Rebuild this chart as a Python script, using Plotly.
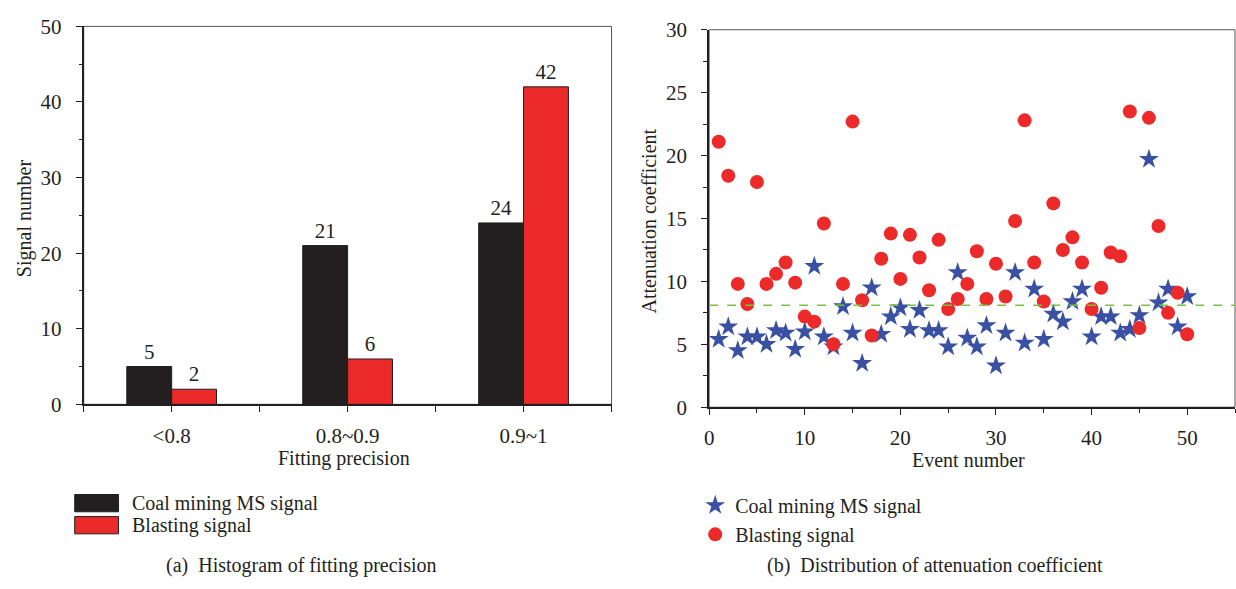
import plotly.graph_objects as go

# ---- data -------------------------------------------------------------
precision_bins = ["<0.8", "0.8~0.9", "0.9~1"]
coal_counts = [5, 21, 24]
blast_counts = [2, 6, 42]

event_no = list(range(1, 51))
coal_atten = [5.4, 6.4, 4.5, 5.6, 5.6, 5.0, 6.1, 5.9, 4.6, 6.0,
              11.2, 5.6, 4.8, 8.0, 5.9, 3.5, 9.5, 5.8, 7.2, 7.9,
              6.2, 7.7, 6.1, 6.1, 4.8, 10.7, 5.5, 4.8, 6.5, 3.3,
              5.9, 10.7, 5.1, 9.4, 5.4, 7.4, 6.8, 8.4, 9.4, 5.6,
              7.2, 7.2, 5.9, 6.2, 7.3, 19.7, 8.3, 9.4, 6.4, 8.8]
blast_atten = [21.1, 18.4, 9.8, 8.2, 17.9, 9.8, 10.6, 11.5, 9.9, 7.2,
               6.8, 14.6, 5.0, 9.8, 22.7, 8.5, 5.7, 11.8, 13.8, 10.2,
               13.7, 11.9, 9.3, 13.3, 7.8, 8.6, 9.8, 12.4, 8.6, 11.4,
               8.8, 14.8, 22.8, 11.5, 8.4, 16.2, 12.5, 13.5, 11.5, 7.8,
               9.5, 12.3, 12.0, 23.5, 6.3, 23.0, 14.4, 7.5, 9.1, 5.8]
threshold = 8.1

series_names = ["Coal mining MS signal", "Blasting signal"]

# ---- style ------------------------------------------------------------
W, H = 1236, 589
INK = "#231f20"
BLACK_BAR = "#231f20"
RED = "#ec2a2a"
BLUE = "#3a50a2"
GREEN = "#7cc242"
FONT = "Liberation Serif"
FS = 20       # labels, titles, legend
FS_TICK = 21  # tick labels


def px(x):
    return x / W


def py(y):
    return 1 - y / H


fig = go.Figure()

# ---- (a) grouped bar chart ---------------------------------------------
bin_pos = list(range(len(precision_bins)))
fig.add_trace(go.Bar(
    x=bin_pos, y=coal_counts, name=series_names[0],
    marker=dict(color=BLACK_BAR, line=dict(color=INK, width=1)),
    text=[str(v) for v in coal_counts], textposition="outside",
    textfont=dict(family=FONT, size=FS_TICK, color=INK),
    cliponaxis=False, showlegend=False, xaxis="x", yaxis="y"))
fig.add_trace(go.Bar(
    x=bin_pos, y=blast_counts, name=series_names[1],
    marker=dict(color=RED, line=dict(color=INK, width=1)),
    text=[str(v) for v in blast_counts], textposition="outside",
    textfont=dict(family=FONT, size=FS_TICK, color=INK),
    cliponaxis=False, showlegend=False, xaxis="x", yaxis="y"))

# ---- (b) scatter of attenuation coefficients ---------------------------
fig.add_trace(go.Scatter(
    x=event_no, y=coal_atten, mode="markers", name=series_names[0],
    marker=dict(symbol="star", size=15, color=BLUE, line=dict(width=0)),
    xaxis="x2", yaxis="y2", legend="legend"))
fig.add_trace(go.Scatter(
    x=event_no, y=blast_atten, mode="markers", name=series_names[1],
    marker=dict(symbol="circle", size=14, color=RED, line=dict(width=0)),
    xaxis="x2", yaxis="y2", legend="legend"))

# horizontal dashed reference level
fig.add_shape(type="line", xref="x2 domain", yref="y2",
              x0=0, x1=1, y0=threshold, y1=threshold,
              line=dict(color=GREEN, width=1.5, dash="dash"))

axis_common = dict(
    showgrid=False, zeroline=False, showline=True, linecolor=INK,
    linewidth=2, ticks="outside", ticklen=6, tickwidth=1.2, tickcolor=INK,
    tickfont=dict(family=FONT, size=FS_TICK, color=INK), mirror=False,
)

fig.update_layout(
    width=W, height=H,
    margin=dict(l=0, r=0, t=0, b=0),
    paper_bgcolor="white", plot_bgcolor="white",
    barmode="group", bargap=0.49, bargroupgap=0,
    xaxis=dict(**axis_common, domain=[px(79), px(609)], anchor="y",
               range=[-0.5, 2.5], tickvals=bin_pos, ticktext=precision_bins,
               ticklabelstandoff=5,
               minor=dict(tick0=-0.5, dtick=1, ticks="outside", ticklen=6,
                          tickcolor=INK, tickwidth=1.2)),
    yaxis=dict(**axis_common, domain=[py(409), py(15)], anchor="x",
               range=[0, 50], dtick=10, ticklabelstandoff=10,
               minor=dict(dtick=5, ticks="outside", ticklen=3,
                          tickcolor=INK, tickwidth=1.2)),
    xaxis2=dict(**axis_common, domain=[px(707), px(1235)], anchor="y2",
                range=[0, 55], dtick=10, ticklabelstandoff=5,
                minor=dict(dtick=5, ticks="outside", ticklen=4,
                           tickcolor=INK, tickwidth=1.2)),
    yaxis2=dict(**axis_common, domain=[py(412), py(18.5)], anchor="x2",
                range=[0, 30], dtick=5, ticklabelstandoff=10,
                minor=dict(dtick=2.5, ticks="outside", ticklen=4,
                           tickcolor=INK, tickwidth=1.2)),
    legend=dict(x=px(693), y=py(494), xanchor="left", yanchor="top",
                bgcolor="rgba(0,0,0,0)", borderwidth=0, itemsizing="trace",
                font=dict(family=FONT, size=FS, color=INK), tracegroupgap=0),
)

# thin frame around each panel (top and right edges)
for xr, yr in (("x domain", "y domain"), ("x2 domain", "y2 domain")):
    fig.add_shape(type="rect", xref=xr, yref=yr, x0=0, x1=1, y0=0, y1=1,
                  line=dict(color="#555555", width=1), layer="below")

# legend of panel (a): colour swatches + labels
swatches = [(503, 521, BLACK_BAR), (526, 544, RED)]
for (top, bottom, col), label in zip(swatches, series_names):
    fig.add_shape(type="rect", xref="paper", yref="paper",
                  x0=px(70), x1=px(114), y0=py(bottom), y1=py(top),
                  fillcolor=col, line=dict(color=INK, width=1))
    fig.add_annotation(x=px(126), y=py((top + bottom) / 2), xref="paper",
                       yref="paper", text=label, showarrow=False,
                       xanchor="left", yanchor="middle",
                       font=dict(family=FONT, size=FS, color=INK))

# axis titles and panel captions
texts = [
    ("Fitting precision", 340, 465, 0),
    ("Event number", 967, 467, 0),
    ("Signal number", 19, 215, -90),
    ("Attenuation coefficient", 647, 218, -90),
    ("(a)  Histogram of fitting precision", 298, 577, 0),
    ("(b)  Distribution of attenuation coefficient", 934, 577, 0),
]
for txt, x, y, ang in texts:
    fig.add_annotation(x=px(x), y=py(y), xref="paper", yref="paper",
                       text=txt, showarrow=False, textangle=ang,
                       xanchor="center", yanchor="middle",
                       font=dict(family=FONT, size=FS, color=INK))

fig.write_html("out.html")
